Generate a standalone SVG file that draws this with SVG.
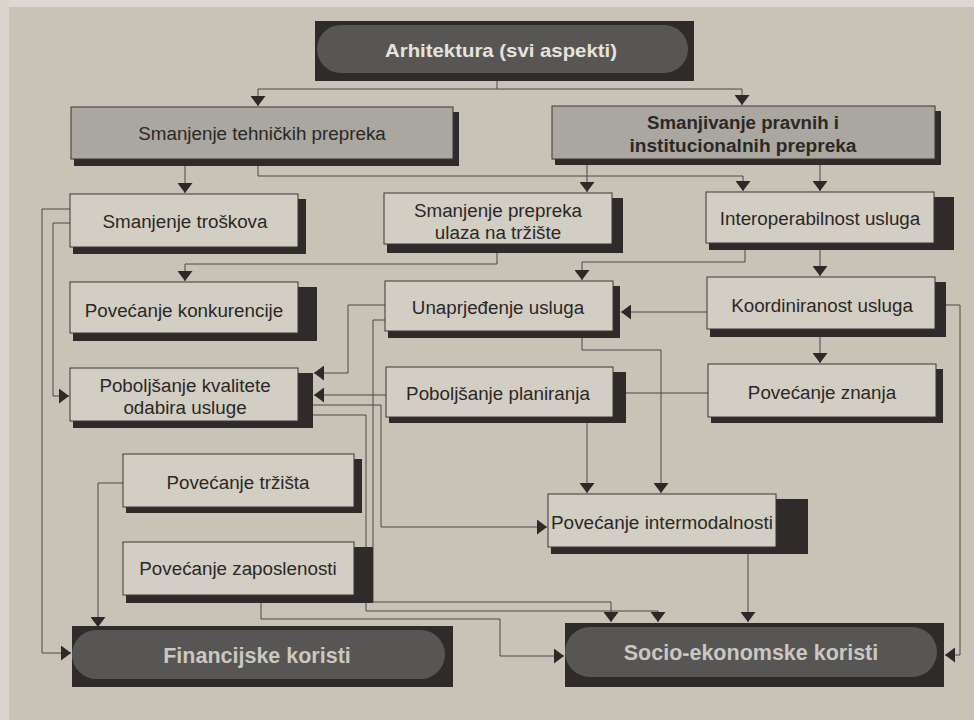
<svg xmlns="http://www.w3.org/2000/svg" width="974" height="720" viewBox="0 0 974 720">
<defs>
<marker id="ah" viewBox="0 0 10 15" refX="10" refY="7.5" markerWidth="10" markerHeight="15" markerUnits="userSpaceOnUse" orient="auto">
<path d="M0,0 L10,7.5 L0,15 z" fill="#2c2928"/>
</marker>
<style>
.bx{fill:#d3cec3;stroke:#3a3634;stroke-width:1}
.gb{fill:#aaa6a0;stroke:#3a3634;stroke-width:1}
.sh{fill:#2e2b2a}
.fr{fill:#2e2b2a}
.pill{fill:#585655}
.t{font-family:"Liberation Sans",Arial,sans-serif;font-size:18.8px;fill:#2b2826;text-anchor:middle;dominant-baseline:central}
.tb{font-family:"Liberation Sans",Arial,sans-serif;font-weight:bold;text-anchor:middle;dominant-baseline:central}
.c{fill:none;stroke:#4a4644;stroke-width:1}
.a{marker-end:url(#ah)}
</style>
</defs>
<rect x="0" y="0" width="974" height="720" fill="#c9c3b7"/>
<rect x="0" y="0" width="974" height="7" fill="#dcd8d1"/>
<rect x="0" y="0" width="9" height="720" fill="#d9d5ce"/>

<g id="connectors">
<path class="c a" d="M497 81 V89 H258 V106"/>
<path class="c a" d="M497 89 H742 V105"/>
<path class="c a" d="M185 166 V193"/>
<path class="c a" d="M258 166 V176 H743 V191"/>
<path class="c a" d="M587 165 V192"/>
<path class="c a" d="M820 165 V191"/>
<path class="c a" d="M70 209 H42 V653 H71"/>
<path class="c a" d="M70 223 H53 V396 H69"/>
<path class="c a" d="M497 253 V264 H185 V281"/>
<path class="c a" d="M745 250 V262 H582 V280"/>
<path class="c a" d="M820 250 V276"/>
<path class="c a" d="M707 312 H621"/>
<path class="c a" d="M820 337 V363"/>
<path class="c a" d="M946 305 H960 V655 H945"/>
<path class="c a" d="M385 305 H348 V373 H314"/>
<path class="c a" d="M385 320 H373 V602 H611 V622"/>
<path class="c a" d="M582 338 V350 H661 V493"/>
<path class="c a" d="M587 423 V493"/>
<path class="c" d="M708 393 H626"/>
<path class="c a" d="M386 395 H314"/>
<path class="c a" d="M313 405 H381 V527 H547"/>
<path class="c a" d="M313 415 H366 V611 H658 V622"/>
<path class="c a" d="M123 483 H98 V627"/>
<path class="c a" d="M261 603 V619 H500 V656 H564"/>
<path class="c a" d="M748 554 V622"/>
</g>

<g id="n-arhitektura">
<rect class="fr" x="315" y="21" width="379" height="60"/>
<rect class="pill" x="317" y="25" width="371" height="48" rx="24"/>
<text class="tb" x="501" y="50" font-size="19" fill="#e6e3de" textLength="232" lengthAdjust="spacingAndGlyphs">Arhitektura (svi aspekti)</text>
</g>

<g id="n-tehnickih">
<rect class="sh" x="74" y="112" width="385" height="54"/>
<rect class="gb" x="71" y="107" width="382" height="52"/>
<text class="t" x="262" y="133" font-size="19">Smanjenje tehničkih prepreka</text>
</g>

<g id="n-pravnih">
<rect class="sh" x="555" y="111" width="386" height="54"/>
<rect class="gb" x="552" y="106" width="383" height="53"/>
<text class="t" x="743" y="122" font-size="19" font-weight="bold" textLength="192" lengthAdjust="spacingAndGlyphs">Smanjivanje pravnih i</text>
<text class="t" x="743" y="145" font-size="19" font-weight="bold" textLength="227" lengthAdjust="spacingAndGlyphs">institucionalnih prepreka</text>
</g>

<g id="n-troskova">
<rect class="sh" x="73" y="199" width="233" height="55"/>
<rect class="bx" x="70" y="194" width="228" height="53"/>
<text class="t" x="185" y="221">Smanjenje troškova</text>
</g>

<g id="n-ulaza">
<rect class="sh" x="387" y="198" width="236" height="55"/>
<rect class="bx" x="384" y="193" width="228" height="51"/>
<text class="t" x="498" y="210">Smanjenje prepreka</text>
<text class="t" x="498" y="232">ulaza na tržište</text>
</g>

<g id="n-interoperabilnost">
<rect class="sh" x="709" y="197" width="245" height="53"/>
<rect class="bx" x="706" y="192" width="228" height="51"/>
<text class="t" x="820" y="218">Interoperabilnost usluga</text>
</g>

<g id="n-konkurencije">
<rect class="sh" x="73" y="287" width="244" height="54"/>
<rect class="bx" x="70" y="282" width="228" height="51"/>
<text class="t" x="184" y="310">Povećanje konkurencije</text>
</g>

<g id="n-unaprjedenje">
<rect class="sh" x="388" y="286" width="232" height="52"/>
<rect class="bx" x="385" y="281" width="228" height="50"/>
<text class="t" x="498" y="307">Unaprjeđenje usluga</text>
</g>

<g id="n-koordiniranost">
<rect class="sh" x="710" y="282" width="236" height="55"/>
<rect class="bx" x="707" y="277" width="228" height="52"/>
<text class="t" x="822" y="305">Koordiniranost usluga</text>
</g>

<g id="n-kvalitete">
<rect class="sh" x="73" y="373" width="240" height="55"/>
<rect class="bx" x="70" y="368" width="228" height="53"/>
<text class="t" x="185" y="385">Poboljšanje kvalitete</text>
<text class="t" x="185" y="407">odabira usluge</text>
</g>

<g id="n-planiranja">
<rect class="sh" x="389" y="372" width="237" height="51"/>
<rect class="bx" x="386" y="367" width="227" height="50"/>
<text class="t" x="498" y="393">Poboljšanje planiranja</text>
</g>

<g id="n-znanja">
<rect class="sh" x="711" y="369" width="232" height="54"/>
<rect class="bx" x="708" y="364" width="228" height="53"/>
<text class="t" x="822" y="392">Povećanje znanja</text>
</g>

<g id="n-trzista">
<rect class="sh" x="126" y="459" width="236" height="54"/>
<rect class="bx" x="123" y="454" width="231" height="53"/>
<text class="t" x="238" y="482">Povećanje tržišta</text>
</g>

<g id="n-zaposlenosti">
<rect class="sh" x="126" y="547" width="247" height="56"/>
<rect class="bx" x="123" y="542" width="231" height="53"/>
<text class="t" x="238" y="568">Povećanje zaposlenosti</text>
</g>

<g id="n-intermodalnosti">
<rect class="sh" x="551" y="499" width="257" height="55"/>
<rect class="bx" x="548" y="494" width="228" height="53"/>
<text class="t" x="662" y="522" textLength="222" lengthAdjust="spacingAndGlyphs">Povećanje intermodalnosti</text>
</g>

<g id="n-financijske">
<rect class="fr" x="72" y="626" width="381" height="61"/>
<rect class="pill" x="72" y="630" width="373" height="49" rx="24.5"/>
<text class="tb" x="257" y="656" font-size="21.5" fill="#cbc7c1">Financijske koristi</text>
</g>

<g id="n-socio">
<rect class="fr" x="565" y="623" width="379" height="64"/>
<rect class="pill" x="565" y="627" width="372" height="50" rx="25"/>
<text class="tb" x="751" y="653" font-size="21.5" fill="#cbc7c1">Socio-ekonomske koristi</text>
</g>
</svg>
